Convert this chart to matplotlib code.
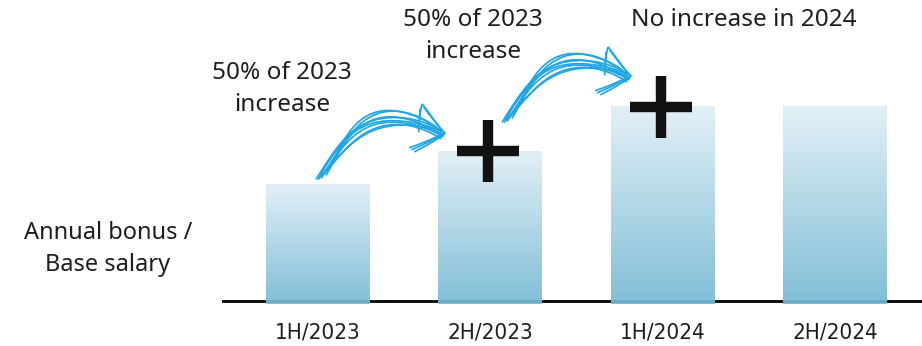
import numpy as np
import matplotlib.pyplot as plt
from matplotlib.colors import LinearSegmentedColormap
from matplotlib.path import Path
from matplotlib.patches import PathPatch
from matplotlib.transforms import Affine2D

# ---------------- DATA ----------------
periods = ["1H/2023", "2H/2023", "1H/2024", "2H/2024"]
ratio = [60, 77, 100, 100]          # annual bonus / base salary (relative)
plus_at = [1, 2]                    # bars that get a "+" mark
notes = ["50% of 2023\nincrease", "50% of 2023\nincrease", "No increase in 2024"]

W, H = 922, 346
fig = plt.figure(figsize=(W / 100, H / 100), dpi=100)
ax = fig.add_axes([222 / W, 42 / H, 700 / W, 304 / H])
ax.axis("off")

txt = "#1e1e1e"
blue = "#1fa6e3"

# ---------------- BARS (gradient) ----------------
cmap = LinearSegmentedColormap.from_list("bar", ["#76b9d4", "#e0eff6"])
grad = np.linspace(0, 1, 256).reshape(-1, 1)
bw = 0.6
for i, v in enumerate(ratio):
    ax.imshow(grad, cmap=cmap, origin="lower", aspect="auto",
              extent=(i - bw / 2, i + bw / 2, -1.55, v), zorder=2, alpha=0.92)
ax.axhline(0, color="black", lw=2.0, zorder=1)
ax.set_xlim(-0.554, 3.504)
ax.set_ylim(-1.55, 155)

# ---------------- PLUS SIGNS ----------------
for i in plus_at:
    ax.plot(i - 0.01, ratio[i], marker="+", ms=45, mew=7.5, color="#111111", zorder=4)

# ---------------- LABELS ----------------
for i, p in enumerate(periods):
    ax.text(i, -16, p, ha="center", va="center", fontsize=16, color=txt,
            family="DejaVu Sans", fontstretch="condensed")

sty = dict(ha="center", va="center", color=txt, family="Noto Sans",
           fontweight="light", linespacing=1.4)
fig.text(108 / W, 1 - 249 / H, "Annual bonus /\nBase salary", fontsize=17, **sty)
fig.text(282 / W, 1 - 89 / H, notes[0], fontsize=17.5, **sty)
fig.text(473 / W, 1 - 36 / H, notes[1], fontsize=17.5, **sty)
fig.text(744 / W, 1 - 20 / H, notes[2], fontsize=17.5, **sty)

# ---------------- SKETCHY ARROWS ----------------
# shape in pixel offsets from start (y down)
strokes = [
    [(0, 0), (50, -95), (129, -46)],
    [(3, -2), (44, -86), (126, -47)],
    [(8, -6), (55, -96), (124, -44)],
    [(2, 0), (62, -80), (128, -44)],
    [(10, -4), (56, -104), (122, -50)],
    [(5, -1), (52, -88), (127, -42)],
    [(12, -8), (48, -102), (120, -52)],
    [(6, -3), (64, -84), (125, -40)],
]
heads = [
    [(96, -30), (129, -46), (106, -75), (102, -52)],
    [(99, -28), (127, -44)],
    [(108, -72), (128, -47)],
    [(94, -32), (126, -45)],
    [(104, -70), (103, -48)],
]


def draw_arrow(anchor, offset):
    ax.figure.canvas.draw()
    x0, y0 = ax.transData.transform(anchor)
    tr = Affine2D().scale(1, -1).translate(x0 + offset[0], y0 - offset[1])
    for s in strokes:
        p = Path(s, [Path.MOVETO, Path.CURVE3, Path.CURVE3])
        pp = PathPatch(p, fc="none", ec=blue, lw=1.25, transform=tr, zorder=5)
        pp.set_sketch_params(0.6, 80, 1)
        ax.add_artist(pp)
    for h in heads:
        hx, hy = zip(*h)
        ln = plt.Line2D(hx, hy, color=blue, lw=1.25, transform=tr, zorder=5)
        ln.set_sketch_params(0.4, 60, 1)
        ax.add_artist(ln)


draw_arrow((0, ratio[0]), (-1.5, -5))
draw_arrow((1, ratio[1]), (12, -29))

fig.savefig("out.png", dpi=100)
